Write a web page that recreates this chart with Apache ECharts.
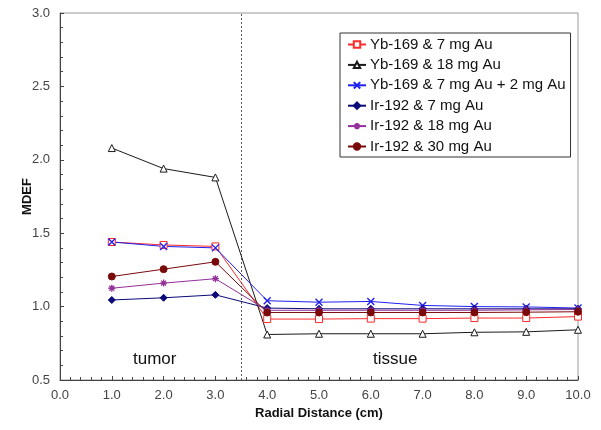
<!DOCTYPE html>
<html>
<head>
<meta charset="utf-8">
<script src="https://cdn.jsdelivr.net/npm/echarts@6/dist/echarts.min.js"></script>
<style>html,body{margin:0;padding:0;background:#fff}#c{width:601px;height:430px}</style>
</head>
<body>
<div id="c"></div>
<script>
var distances = [1, 2, 3, 4, 5, 6, 7, 8, 9, 10];
var yb7 = [1.44, 1.42, 1.41, 0.915, 0.915, 0.918, 0.918, 0.922, 0.922, 0.932];
var yb18 = [2.08, 1.94, 1.88, 0.81, 0.815, 0.815, 0.815, 0.825, 0.828, 0.842];
var yb7p2 = [1.44, 1.41, 1.40, 1.04, 1.03, 1.035, 1.008, 1.0, 0.998, 0.99];
var ir7 = [1.045, 1.06, 1.08, 0.99, 0.985, 0.985, 0.985, 0.985, 0.985, 0.985];
var ir18 = [1.125, 1.16, 1.19, 0.975, 0.975, 0.975, 0.975, 0.975, 0.978, 0.98];
var ir30 = [1.205, 1.255, 1.305, 0.96, 0.96, 0.96, 0.96, 0.96, 0.962, 0.965];
var seriesNames = ['Yb-169 & 7 mg Au', 'Yb-169 & 18 mg Au', 'Yb-169 & 7 mg Au + 2 mg Au',
  'Ir-192 & 7 mg Au', 'Ir-192 & 18 mg Au', 'Ir-192 & 30 mg Au'];
var regionLabels = ['tumor', 'tissue'];
var boundary = 3.5;

function pairs(arr) { return distances.map(function (d, i) { return [d, arr[i]]; }); }

var xPath = 'path://M0,0L10,10M10,0L0,10';
var starPath = 'path://M0,5L10,5M5,0L5,10M1.5,1.5L8.5,8.5M8.5,1.5L1.5,8.5';

function mk(name, data, color, symbol, size, fill, extra) {
  var s = {
    name: name, type: 'line', data: pairs(data),
    symbol: symbol, symbolSize: size, showAllSymbol: true,
    lineStyle: { color: color, width: 1 },
    itemStyle: { color: fill, borderColor: color, borderWidth: 1 },
    emphasis: { disabled: true },
    z: 3
  };
  if (extra) for (var k in extra) s[k] = extra[k];
  return s;
}

var series = [
  mk(seriesNames[0], yb7, '#ff2a2a', 'rect', 7, '#ffffff', {
    markLine: {
      silent: true, symbol: 'none', label: { show: false },
      lineStyle: { color: '#555', type: [2, 2], width: 1 },
      data: [{ xAxis: boundary }]
    }
  }),
  mk(seriesNames[1], yb18, '#1a1a1a', 'triangle', 7, '#ffffff'),
  mk(seriesNames[2], yb7p2, '#2020f0', xPath, 7, '#2020f0', {}),
  mk(seriesNames[3], ir7, '#0a0a78', 'diamond', 7, '#0a0a78'),
  mk(seriesNames[4], ir18, '#952f9a', starPath, 7, '#952f9a'),
  mk(seriesNames[5], ir30, '#7a0a0a', 'circle', 7, '#7a0a0a')
];
series[2].itemStyle.borderWidth = 1.4;
series[4].itemStyle.borderWidth = 1.3;

var chart = echarts.init(document.getElementById('c'), null, { renderer: 'canvas' });
chart.setOption({
  animation: false,
  backgroundColor: '#fff',
  textStyle: { fontFamily: 'Liberation Sans, Arial, sans-serif' },
  grid: { left: 60, right: 23, top: 13, bottom: 50, show: true, borderColor: '#999', borderWidth: 1 },
  xAxis: {
    type: 'value', min: 0, max: 10, interval: 1,
    name: 'Radial Distance (cm)', nameLocation: 'middle', nameGap: 24,
    nameTextStyle: { fontSize: 13, fontWeight: 'bold', color: '#111' },
    axisLine: { lineStyle: { color: '#444' } },
    axisTick: { inside: true, length: 4, lineStyle: { color: '#444' } },
    minorTick: { show: true, splitNumber: 5, length: 3, lineStyle: { color: '#444' } },
    axisLabel: { fontSize: 13, color: '#444', margin: 9, formatter: function (v) { return v.toFixed(1); } },
    splitLine: { show: false }
  },
  yAxis: {
    type: 'value', min: 0.5, max: 3.0, interval: 0.5,
    name: 'MDEF', nameLocation: 'middle', nameGap: 26, nameMoveOverlap: false,
    nameTextStyle: { fontSize: 13, fontWeight: 'bold', color: '#111' },
    axisLine: { show: true, lineStyle: { color: '#444' } },
    axisTick: { inside: true, length: 4, lineStyle: { color: '#444' } },
    minorTick: { show: true, splitNumber: 5, length: 3, lineStyle: { color: '#444' } },
    axisLabel: { fontSize: 13, color: '#444', margin: 10, formatter: function (v) { return v.toFixed(1); } },
    splitLine: { show: false }
  },
  legend: {
    data: seriesNames, orient: 'vertical', left: 340, top: 33,
    backgroundColor: '#fff', borderColor: '#333', borderWidth: 1,
    padding: [4, 5, 3, 7], itemGap: 5.4, itemWidth: 18, itemHeight: 8,
    textStyle: { fontSize: 15, color: '#111', lineHeight: 14, padding: [0, 0, 0, -1] },
    selectedMode: false
  },
  graphic: [
    { type: 'text', left: 133, top: 351, style: { text: regionLabels[0], fontSize: 17, fill: '#111', fontFamily: 'Liberation Sans, Arial, sans-serif' } },
    { type: 'text', left: 373, top: 351, style: { text: regionLabels[1], fontSize: 17, fill: '#111', fontFamily: 'Liberation Sans, Arial, sans-serif' } }
  ],
  series: series
});
</script>
</body>
</html>
